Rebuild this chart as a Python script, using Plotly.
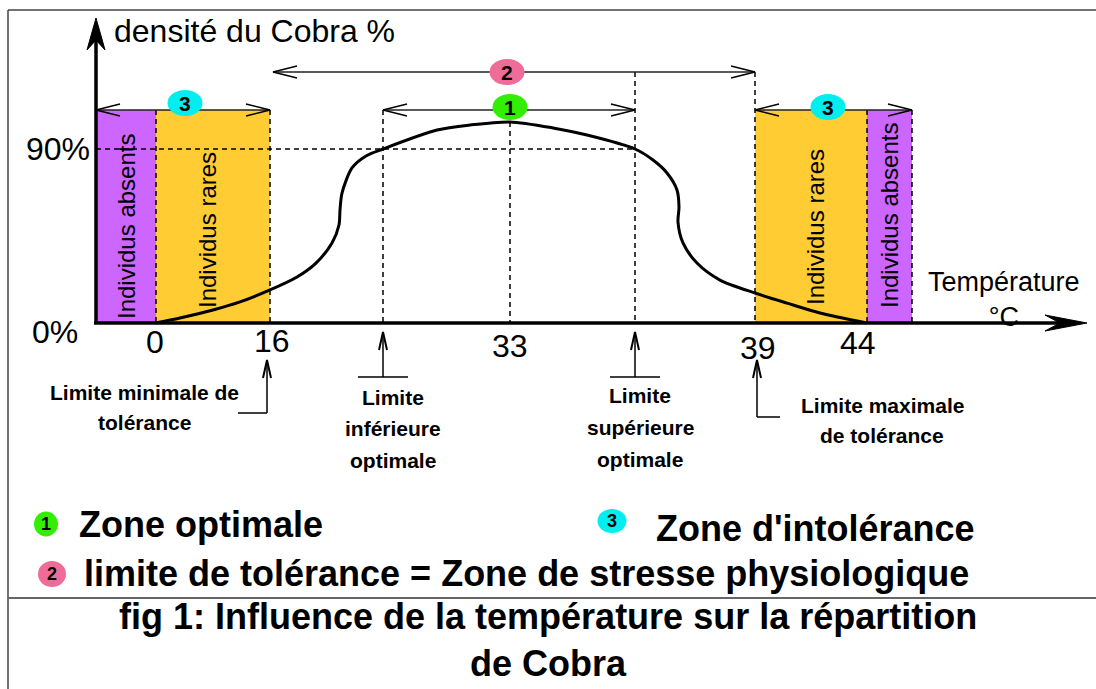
import plotly.graph_objects as go

# ---------------- data ----------------
Y_TITLE = "densité du Cobra %"
X_TITLE = "Température<br>°C"
DENSITY_TICKS = [0, 90]
DENSITY_TICK_LABELS = ["0%", "90%"]
TEMP_TICK_LABELS = ["0", "16", "33", "39", "44"]

# density curve (%) sampled along the schematic temperature axis
CURVE_POS = [155, 180, 213, 240, 270, 297, 316, 332, 339, 340, 342, 352, 366, 383,
             437, 470, 510, 553, 587, 635, 653, 667, 677, 679, 678, 683, 697, 720,
             755, 787, 820, 867]
CURVE_DENSITY = [0, 2.6, 6.7, 10.9, 17.1, 23.8, 31.0, 41.4, 50.7, 58.4, 67.2, 80.2,
                 86.4, 90.0, 99.8, 102.4, 104.0, 100.9, 97.2, 90.0, 84.3, 77.6, 68.8,
                 60.0, 52.2, 41.4, 31.0, 22.2, 15.5, 10.3, 5.2, 0]

ZONE_LABELS = ["Individus absents", "Individus rares", "Individus rares", "Individus absents"]
LIMIT_LABELS = [["Limite minimale de", "tolérance"],
                ["Limite", "inférieure", "optimale"],
                ["Limite", "supérieure", "optimale"],
                ["Limite maximale", "de tolérance"]]
LEGEND_ITEMS = [("1", "Zone optimale"), ("3", "Zone d'intolérance"),
                ("2", "limite de tolérance = Zone de stresse physiologique")]
CAPTION = "fig 1: Influence de la température sur la répartition<br>de Cobra"

# ---------------- layout geometry ----------------
W, H = 1096, 689
X0, Y0 = 96, 323            # origin of the axes on the page
K = (323 - 149) / 90.0      # pixels per density percent
TOP = 110                   # top of the zone boxes (page px)

def Y(py):
    """page pixel row -> density value on the y axis"""
    return (Y0 - py) / K

TICK_POS = [155, 272, 510, 758, 858]
TICK_ROW = [342, 341, 346, 348, 343]
ZONE_EDGES = [X0, 156, 270, 755, 867, 912]
OPT_LO, OPT_MID, OPT_HI = 383, 510, 635
STRESS_LEFT = 273

PURPLE = "#CC66FF"
ORANGE = "#FFCC33"
GREEN = "#33EE00"
CYAN = "#00EEEE"
PINK = "#F06C98"
INK = "#000000"
FONT = "Liberation Sans"

shapes = []
annotations = []

def line(x0, y0, x1, y1, width=1.5, dash=None, color=INK):
    shapes.append(dict(type="line", xref="x", yref="y", x0=x0, y0=Y(y0), x1=x1, y1=Y(y1),
                       line=dict(color=color, width=width, dash=dash), layer="above"))

def path(pts, width=1.5, fill=None, color=INK):
    d = "M " + " L ".join(f"{x},{Y(y)}" for x, y in pts)
    if fill:
        d += " Z"
    shapes.append(dict(type="path", xref="x", yref="y", path=d, layer="above",
                       line=dict(color=color, width=width),
                       fillcolor=fill if fill else "rgba(0,0,0,0)"))

def head_h(tx, ty, direction, length=24, half=6):
    path([(tx - direction * length, ty - half), (tx, ty), (tx - direction * length, ty + half)],
         width=1.5)

def head_up(tx, ty, length=18, half=4):
    path([(tx - half, ty + length), (tx, ty), (tx + half, ty + length)], width=2)

def double_arrow(xa, xb, y):
    line(xa, y, xb, y, width=1.5, color="#222222")
    head_h(xa, y, -1)
    head_h(xb, y, 1)

def badge(cx, cy, label, color, w=35, h=26, size=21):
    shapes.append(dict(type="circle", xref="x", yref="y", x0=cx - w / 2, x1=cx + w / 2,
                       y0=Y(cy + h / 2), y1=Y(cy - h / 2), fillcolor=color,
                       line=dict(width=0), layer="above"))
    annotations.append(dict(x=cx, y=Y(cy), text=f"<b>{label}</b>", showarrow=False,
                            font=dict(family=FONT, size=size, color=INK),
                            xanchor="center", yanchor="middle"))

def text(x, y, s, size, anchor="center", bold=False, angle=0):
    annotations.append(dict(x=x, y=Y(y), text=f"<b>{s}</b>" if bold else s, showarrow=False,
                            font=dict(family=FONT, size=size, color=INK),
                            xanchor=anchor, yanchor="middle", textangle=angle, align="center"))

def stacked(x, rows, lines, size):
    for r, s in zip(rows, lines):
        text(x, r, s, size, bold=True)

# zone boxes
fills = [PURPLE, ORANGE, None, ORANGE, PURPLE]
for i, f in enumerate(fills):
    if f:
        shapes.append(dict(type="rect", xref="x", yref="y", x0=ZONE_EDGES[i], x1=ZONE_EDGES[i + 1],
                           y0=0, y1=Y(TOP), fillcolor=f, line=dict(width=0), layer="below"))

# dashed guides
DASH = "5px,4px"
for xv in (156, 270, 867, 912):
    line(xv, TOP, xv, Y0, dash=DASH)
line(OPT_LO, TOP, OPT_LO, Y0, dash=DASH)
line(OPT_MID, 122, OPT_MID, Y0, dash=DASH)
line(OPT_HI, 72, OPT_HI, Y0, dash=DASH)
line(755, 72, 755, Y0, dash=DASH)
shapes.append(dict(type="line", xref="x", yref="y", x0=X0, x1=OPT_HI, y0=90, y1=90,
                   line=dict(color=INK, width=1.5, dash=DASH), layer="above"))

# zone arrows and badges
double_arrow(X0, 270, TOP)
double_arrow(755, 912, TOP)
double_arrow(OPT_LO, OPT_HI, TOP)
double_arrow(STRESS_LEFT, 755, 72)
badge(185, 103, "3", CYAN)
badge(828, 107, "3", CYAN)
badge(510, 107, "1", GREEN)
badge(507, 72, "2", PINK)

# axes with arrowheads
line(X0, Y0, X0, 40, width=3.5)
path([(X0, 18), (X0 - 9, 50), (X0, 40), (X0 + 9, 50)], width=1, fill=INK)
line(X0 - 2, Y0, 1065, Y0, width=3.5)
path([(1087, Y0), (1045, Y0 - 8), (1060, Y0), (1045, Y0 + 8)], width=1, fill=INK)

# axis titles and tick labels
text(112, 31, Y_TITLE, 32, anchor="left")
text(1004, 299, X_TITLE, 27)
for v, lab in zip(DENSITY_TICKS, DENSITY_TICK_LABELS):
    annotations.append(dict(x=80 if v == 0 else 92, y=v, text=lab, showarrow=False,
                            xanchor="right", yanchor="middle", yshift=-9 if v == 0 else 0,
                            font=dict(family=FONT, size=32, color=INK)))
for p, r, lab in zip(TICK_POS, TICK_ROW, TEMP_TICK_LABELS):
    text(p, r, lab, 32)

# rotated zone labels
for cx, cy, lab in zip([126, 207, 815, 889], [227, 230, 227, 216], ZONE_LABELS):
    text(cx, cy, lab, 24, angle=-90)

# pointers to the limits
line(267, 413, 267, 362, width=1.5)
head_up(267, 360)
line(238, 413, 267, 413, width=1.5)
for xv in (OPT_LO, OPT_HI):
    line(xv, 377, xv, 334, width=1.5)
    head_up(xv, 332)
    line(xv - 25, 377, xv + 25, 377, width=1.5)
line(757, 417, 757, 362, width=1.5)
head_up(757, 360)
line(757, 417, 780, 417, width=1.5)

stacked(144, [392, 422], LIMIT_LABELS[0], 21)
stacked(393, [397, 428, 460], LIMIT_LABELS[1], 21)
stacked(640, [395, 427, 459], LIMIT_LABELS[2], 21)
stacked(882, [405, 435], LIMIT_LABELS[3], 21)

# legend
badge(46, 524, "1", GREEN, w=24, h=25, size=18)
text(77, 524, LEGEND_ITEMS[0][1], 36, anchor="left", bold=True)
badge(612, 521, "3", CYAN, w=29, h=24, size=18)
text(654, 528, LEGEND_ITEMS[1][1], 36, anchor="left", bold=True)
badge(52, 574, "2", PINK, w=28, h=26, size=18)
text(82, 573, LEGEND_ITEMS[2][1], 36, anchor="left", bold=True)

# caption
text(548, 640, CAPTION, 36, bold=True)

# frame
shapes.append(dict(type="line", xref="paper", yref="paper", x0=8 / W, x1=1, y0=1 - 10 / H, y1=1 - 10 / H,
                   line=dict(color="#444444", width=1.5)))
shapes.append(dict(type="line", xref="paper", yref="paper", x0=8 / W, x1=8 / W, y0=0, y1=1 - 10 / H,
                   line=dict(color="#444444", width=1.5)))
shapes.append(dict(type="line", xref="paper", yref="paper", x0=8 / W, x1=1, y0=1 - 598 / H, y1=1 - 598 / H,
                   line=dict(color="#666666", width=2)))

fig = go.Figure()
fig.add_trace(go.Scatter(x=CURVE_POS, y=CURVE_DENSITY, mode="lines",
                         line=dict(color=INK, width=3, shape="spline", smoothing=0.8),
                         hoverinfo="skip"))
fig.update_layout(
    width=W, height=H, margin=dict(l=0, r=0, t=0, b=0),
    paper_bgcolor="white", plot_bgcolor="white", showlegend=False,
    xaxis=dict(range=[0, W], visible=False, fixedrange=True),
    yaxis=dict(range=[Y(H), Y(0)], visible=False, fixedrange=True),
    shapes=shapes, annotations=annotations,
)
fig.write_html("out.html")
